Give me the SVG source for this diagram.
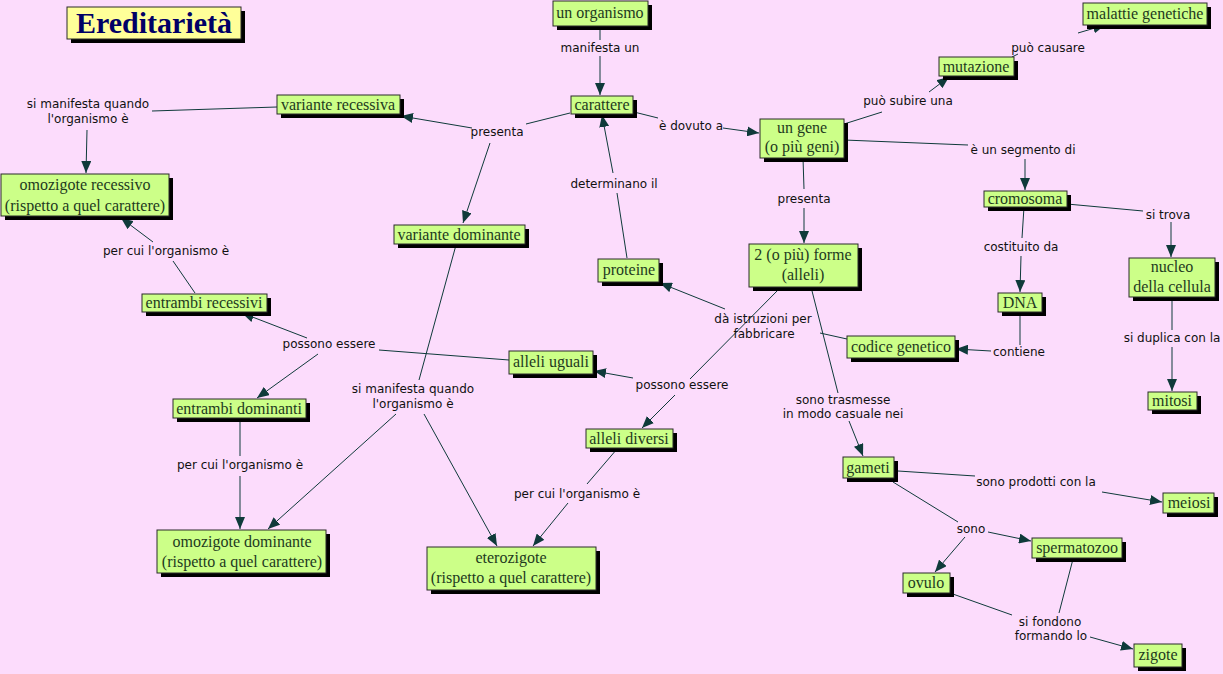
<svg xmlns="http://www.w3.org/2000/svg" width="1223" height="674" viewBox="0 0 1223 674">
<defs>
<marker id="a" viewBox="0 0 12 10" refX="12" refY="5" markerWidth="12" markerHeight="10" orient="auto" markerUnits="userSpaceOnUse"><path d="M0,0 L12,5 L0,10 z" fill="#0f3a3a"/></marker>
</defs>
<style>
.sh{fill:#000}
.bx{fill:#ccff88;stroke:#2a2a2a;stroke-width:1}
.nt{font-family:"Liberation Serif",serif;font-size:16px;fill:#1e3a1e;text-anchor:middle}
.lt{font-family:"DejaVu Sans",sans-serif;font-size:12px;fill:#111;text-anchor:middle}
.c path{fill:none;stroke:#0f3a3a;stroke-width:1}
.c path.ar{marker-end:url(#a)}
</style>
<rect width="1223" height="674" fill="#fcdcfc"/>
<g id="title">
<rect class="sh" x="71" y="11" width="174" height="32"/>
<rect x="67" y="7" width="174" height="32" fill="#ffff99" stroke="#2a2a2a"/>
<text x="154" y="33" font-family="Liberation Serif,serif" font-size="30" font-weight="bold" fill="#000066" text-anchor="middle">Ereditarietà</text>
</g>
<g class="c" id="connectors">
<path d="M600,26 L600,40"/>
<path class="ar" d="M600,56 L600,95"/>
<path d="M634,112 L658,118"/>
<path class="ar" d="M723,128 L759,133"/>
<path d="M570,113 L526,124"/>
<path class="ar" d="M472,128 L401,116"/>
<path class="ar" d="M490,143 L463,223"/>
<path d="M627,258 L617,193"/>
<path class="ar" d="M613,173 L602,115"/>
<path d="M803,158 L804,189"/>
<path class="ar" d="M804,208 L804,243"/>
<path d="M844,124 L882,112"/>
<path class="ar" d="M929,92 L949,77"/>
<path d="M1012,57 L1018,54"/>
<path class="ar" d="M1078,33 L1105,25"/>
<path d="M844,140 L968,145"/>
<path class="ar" d="M1025,159 L1025,190"/>
<path d="M1067,204 L1143,211"/>
<path class="ar" d="M1171,222 L1171,257"/>
<path d="M1024,207 L1022,238"/>
<path class="ar" d="M1021,256 L1020,292"/>
<path d="M1020,312 L1020,345"/>
<path class="ar" d="M991,351 L956,349"/>
<path d="M847,339 L820,333"/>
<path class="ar" d="M725,309 L660,283"/>
<path d="M1172,297 L1172,330"/>
<path class="ar" d="M1172,347 L1172,391"/>
<path d="M780,288 L690,379"/>
<path class="ar" d="M633,378 L594,371"/>
<path class="ar" d="M675,395 L642,428"/>
<path d="M811,287 L838,393"/>
<path class="ar" d="M849,421 L863,456"/>
<path d="M509,360 L379,350"/>
<path class="ar" d="M307,338 L242,313"/>
<path class="ar" d="M318,354 L257,398"/>
<path d="M195,293 L173,261"/>
<path class="ar" d="M153,242 L121,218"/>
<path d="M277,107 L152,111"/>
<path class="ar" d="M87,130 L86,173"/>
<path d="M456,245 L419,380"/>
<path class="ar" d="M396,414 L268,529"/>
<path class="ar" d="M424,414 L497,546"/>
<path d="M240,419 L240,456"/>
<path class="ar" d="M240,476 L240,529"/>
<path d="M617,449 L587,484"/>
<path class="ar" d="M568,503 L533,546"/>
<path d="M898,471 L975,476"/>
<path class="ar" d="M1102,492 L1162,502"/>
<path d="M893,482 L958,522"/>
<path class="ar" d="M988,532 L1031,541"/>
<path class="ar" d="M965,537 L935,572"/>
<path d="M950,593 L1012,615"/>
<path d="M1073,559 L1059,613"/>
<path class="ar" d="M1090,637 L1133,649"/>
</g>
<g id="labels">
<text class="lt" x="600" y="52">manifesta un</text>
<text class="lt" x="691" y="130">è dovuto a</text>
<text class="lt" x="497" y="136">presenta</text>
<text class="lt" x="88" y="108">si manifesta quando</text>
<text class="lt" x="88" y="123">l'organismo è</text>
<text class="lt" x="166" y="255">per cui l'organismo è</text>
<text class="lt" x="329" y="348">possono essere</text>
<text class="lt" x="413" y="393">si manifesta quando</text>
<text class="lt" x="413" y="408">l'organismo è</text>
<text class="lt" x="240" y="469">per cui l'organismo è</text>
<text class="lt" x="577" y="498">per cui l'organismo è</text>
<text class="lt" x="682" y="389">possono essere</text>
<text class="lt" x="763" y="323">dà istruzioni per</text>
<text class="lt" x="764" y="338">fabbricare</text>
<text class="lt" x="614" y="188">determinano il</text>
<text class="lt" x="804" y="203">presenta</text>
<text class="lt" x="908" y="105">può subire una</text>
<text class="lt" x="1048" y="52">può causare</text>
<text class="lt" x="1023" y="154">è un segmento di</text>
<text class="lt" x="1168" y="219">si trova</text>
<text class="lt" x="1021" y="251">costituito da</text>
<text class="lt" x="1019" y="356">contiene</text>
<text class="lt" x="1172" y="342">si duplica con la</text>
<text class="lt" x="843" y="404">sono trasmesse</text>
<text class="lt" x="843" y="418">in modo casuale nei</text>
<text class="lt" x="1036" y="486">sono prodotti con la</text>
<text class="lt" x="971" y="533">sono</text>
<text class="lt" x="1050" y="626">si fondono</text>
<text class="lt" x="1051" y="640">formando lo</text>
</g>
<g id="n-organismo"><rect class="sh" x="557" y="5" width="95" height="25"/><rect class="bx" x="553" y="1" width="95" height="25"/><text class="nt" x="600" y="18">un organismo</text></g>
<g id="n-carattere"><rect class="sh" x="575" y="100" width="62" height="18"/><rect class="bx" x="571" y="96" width="62" height="18"/><text class="nt" x="602" y="110">carattere</text></g>
<g id="n-varrec"><rect class="sh" x="281" y="99" width="123" height="19"/><rect class="bx" x="277" y="95" width="123" height="19"/><text class="nt" x="338" y="110">variante recessiva</text></g>
<g id="n-gene"><rect class="sh" x="764" y="123" width="84" height="39"/><rect class="bx" x="760" y="119" width="84" height="39"/><text class="nt" x="802" y="133">un gene</text><text class="nt" x="802" y="152">(o più geni)</text></g>
<g id="n-mutazione"><rect class="sh" x="943" y="61" width="75" height="19"/><rect class="bx" x="939" y="57" width="75" height="19"/><text class="nt" x="976" y="72">mutazione</text></g>
<g id="n-malattie"><rect class="sh" x="1087" y="7" width="124" height="22"/><rect class="bx" x="1083" y="3" width="124" height="22"/><text class="nt" x="1145" y="19">malattie genetiche</text></g>
<g id="n-omorec"><rect class="sh" x="5" y="178" width="168" height="42"/><rect class="bx" x="1" y="174" width="168" height="42"/><text class="nt" x="85" y="190">omozigote recessivo</text><text class="nt" x="85" y="211">(rispetto a quel carattere)</text></g>
<g id="n-vardom"><rect class="sh" x="398" y="229" width="131" height="19"/><rect class="bx" x="394" y="225" width="131" height="19"/><text class="nt" x="459" y="240">variante dominante</text></g>
<g id="n-proteine"><rect class="sh" x="602" y="263" width="61" height="23"/><rect class="bx" x="598" y="259" width="61" height="23"/><text class="nt" x="629" y="275">proteine</text></g>
<g id="n-forme"><rect class="sh" x="753" y="248" width="109" height="43"/><rect class="bx" x="749" y="244" width="109" height="43"/><text class="nt" x="803" y="260">2 (o più) forme</text><text class="nt" x="803" y="280">(alleli)</text></g>
<g id="n-cromosoma"><rect class="sh" x="988" y="195" width="83" height="16"/><rect class="bx" x="984" y="191" width="83" height="16"/><text class="nt" x="1025" y="204">cromosoma</text></g>
<g id="n-nucleo"><rect class="sh" x="1133" y="262" width="86" height="39"/><rect class="bx" x="1129" y="258" width="86" height="39"/><text class="nt" x="1172" y="272">nucleo</text><text class="nt" x="1172" y="292">della cellula</text></g>
<g id="n-dna"><rect class="sh" x="1002" y="297" width="44" height="19"/><rect class="bx" x="998" y="293" width="44" height="19"/><text class="nt" x="1020" y="308">DNA</text></g>
<g id="n-codice"><rect class="sh" x="851" y="340" width="108" height="22"/><rect class="bx" x="847" y="336" width="108" height="22"/><text class="nt" x="901" y="352">codice genetico</text></g>
<g id="n-mitosi"><rect class="sh" x="1152" y="396" width="49" height="18"/><rect class="bx" x="1148" y="392" width="49" height="18"/><text class="nt" x="1172" y="406">mitosi</text></g>
<g id="n-entrec"><rect class="sh" x="146" y="298" width="125" height="18"/><rect class="bx" x="142" y="294" width="125" height="18"/><text class="nt" x="204" y="308">entrambi recessivi</text></g>
<g id="n-uguali"><rect class="sh" x="513" y="355" width="84" height="23"/><rect class="bx" x="509" y="351" width="84" height="23"/><text class="nt" x="551" y="367">alleli uguali</text></g>
<g id="n-entdom"><rect class="sh" x="177" y="403" width="133" height="19"/><rect class="bx" x="173" y="399" width="133" height="19"/><text class="nt" x="239" y="414">entrambi dominanti</text></g>
<g id="n-diversi"><rect class="sh" x="590" y="433" width="87" height="19"/><rect class="bx" x="586" y="429" width="87" height="19"/><text class="nt" x="629" y="444">alleli diversi</text></g>
<g id="n-gameti"><rect class="sh" x="847" y="461" width="51" height="21"/><rect class="bx" x="843" y="457" width="51" height="21"/><text class="nt" x="868" y="473">gameti</text></g>
<g id="n-meiosi"><rect class="sh" x="1167" y="497" width="51" height="20"/><rect class="bx" x="1163" y="493" width="51" height="20"/><text class="nt" x="1189" y="508">meiosi</text></g>
<g id="n-sperm"><rect class="sh" x="1036" y="542" width="90" height="20"/><rect class="bx" x="1032" y="538" width="90" height="20"/><text class="nt" x="1077" y="553">spermatozoo</text></g>
<g id="n-ovulo"><rect class="sh" x="907" y="577" width="47" height="20"/><rect class="bx" x="903" y="573" width="47" height="20"/><text class="nt" x="926" y="588">ovulo</text></g>
<g id="n-zigote"><rect class="sh" x="1138" y="648" width="48" height="23"/><rect class="bx" x="1134" y="644" width="48" height="23"/><text class="nt" x="1158" y="660">zigote</text></g>
<g id="n-omodom"><rect class="sh" x="161" y="534" width="169" height="43"/><rect class="bx" x="157" y="530" width="169" height="43"/><text class="nt" x="242" y="547">omozigote dominante</text><text class="nt" x="242" y="567">(rispetto a quel carattere)</text></g>
<g id="n-etero"><rect class="sh" x="431" y="551" width="169" height="43"/><rect class="bx" x="427" y="547" width="169" height="43"/><text class="nt" x="511" y="563">eterozigote</text><text class="nt" x="511" y="583">(rispetto a quel carattere)</text></g>
</svg>
